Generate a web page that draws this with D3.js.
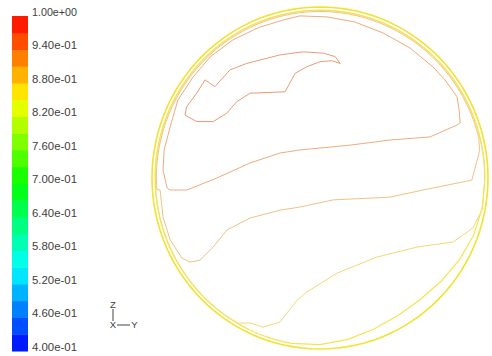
<!DOCTYPE html>
<html>
<head>
<meta charset="utf-8">
<script src="https://cdn.jsdelivr.net/npm/d3@7/dist/d3.min.js"></script>
<style>
  html, body { margin: 0; padding: 0; background: #fff; }
  svg { display: block; }
  text { font-family: "Liberation Sans", Arial, sans-serif; fill: #404040; }
</style>
</head>
<body>
<svg id="chart" width="492" height="356"></svg>
<script>
// ---------------- data ----------------
// colour bar: lower edge of each of the 20 bands
const bandLevels = [0.40, 0.43, 0.46, 0.49, 0.52, 0.55, 0.58, 0.61, 0.64, 0.67,
                    0.70, 0.73, 0.76, 0.79, 0.82, 0.85, 0.88, 0.91, 0.94, 0.97];
const bandTop = 1.00;
const tickValues = [1.00, 0.94, 0.88, 0.82, 0.76, 0.70, 0.64, 0.58, 0.52, 0.46, 0.40];
const tickLabels = ["1.00e+00", "9.40e-01", "8.80e-01", "8.20e-01", "7.60e-01", "7.00e-01",
                    "6.40e-01", "5.80e-01", "5.20e-01", "4.60e-01", "4.00e-01"];

// section geometry (Y, Z in mm), pipe radius
const wallRadius = 50;

// contour lines: sequences of segments.
//  arc:   [radius, fromDeg, toDeg]  (along the wall)
//  polar: [[deg, radius], ...]
//  pts:   [[Y, Z], ...]
const contourWall = [{ arc: [50, 0, 360] }];
const contour082 = [
  { polar: [[-100, 49.1], [-90, 48.7], [-80, 47.9], [-70, 47.0], [-60, 46.4], [-50, 46.4],
            [-40, 47.0], [-30, 47.9], [-20, 48.7], [-10, 49.1]] },
  { arc: [49.1, 0, 260] }
];
const contour085 = [
  { arc: [49.0, -2, 240] },
  { pts: [[-20.8, -42.4], [-17.0, -43.6], [-11.9, -42.1], [-6.8, -35.7], [-3.9, -33.3],
          [5.1, -27.8], [17.0, -23.1], [28.9, -20.2], [39.6, -18.7], [45.5, -14.6], [48.2, -9.4]] }
];
const contour088 = [
  { arc: [48.7, 184, 14] },
  { pts: [[47.5, 8.0], [46.4, 3.8], [45.2, -0.6], [43.8, -0.9], [30.7, -3.5], [20.8, -5.6], [3.9, -6.4],
          [-6.0, -8.5], [-11.9, -9.4], [-20.8, -11.7], [-27.7, -15.2], [-31.8, -20.2],
          [-35.7, -24.0], [-38.7, -24.6], [-41.1, -23.4], [-44.6, -18.1], [-46.7, -11.4],
          [-47.6, -3.5]] }
];
const contour091 = [
  { pts: [[-45.5, -2.9], [-44.6, -3.5], [-39.6, -3.5], [-30.7, 0.0], [-20.8, 4.4], [-11.9, 7.3],
          [-6.0, 8.2], [8.9, 9.6], [20.8, 11.1], [32.7, 12.0], [40.8, 15.5], [41.7, 16.1],
          [41.4, 19.9], [40.8, 23.7], [37.2, 28.7], [33.6, 32.5], [26.8, 38.0], [18.8, 42.4],
          [10.4, 45.6], [2.1, 47.1], [-6.0, 47.4], [-11.0, 46.2], [-18.5, 43.9], [-25.9, 40.4],
          [-32.7, 35.4], [-37.8, 29.5], [-42.3, 22.8], [-44.6, 14.9], [-46.4, 8.2], [-46.7, 2.3]] }
];
const contour094 = [
  { pts: [[-34.2, 28.7], [-31.3, 26.7], [-26.8, 31.6], [-21.8, 33.5], [-11.9, 36.0], [-5.0, 36.9],
          [1.0, 36.5], [4.5, 35.5], [6.0, 33.5], [3.5, 34.3], [0.0, 34.0], [-4.0, 32.5],
          [-7.4, 30.6], [-10.4, 25.2], [-20.8, 24.8], [-24.8, 22.3], [-27.8, 18.9], [-31.8, 16.5],
          [-36.7, 16.5], [-40.2, 18.4], [-39.7, 20.8], [-36.7, 24.8]] }
];

// ---------------- drawing ----------------
const svg = d3.select("#chart");
svg.append("rect").attr("width", 492).attr("height", 356).attr("fill", "#fff");

// colour map (blue -> red rainbow)
const hueScale = d3.scaleLinear().domain([0.40, 1.00]).range([240, 0]);
const yBar = d3.scaleLinear().domain([0.40, 1.00]).range([351, 16]);

const bar = svg.append("g");
bandLevels.forEach((lv, i) => {
  const hi = i + 1 < bandLevels.length ? bandLevels[i + 1] : bandTop;
  const mid = (lv + hi) / 2;
  bar.append("rect")
    .attr("x", 12).attr("width", 16)
    .attr("y", yBar(hi))
    .attr("height", yBar(lv) - yBar(hi) + 0.5)
    .attr("fill", d3.hsl(hueScale(mid), 1, 0.5).formatHex());
});

tickValues.forEach((v, i) => {
  svg.append("text")
    .attr("x", 32).attr("y", yBar(v) - 3)
    .attr("dominant-baseline", "middle")
    .attr("font-size", 10.5)
    .attr("textLength", 45).attr("lengthAdjust", "spacingAndGlyphs")
    .text(tickLabels[i]);
});

// section plot
const xS = d3.scaleLinear().domain([-wallRadius, wallRadius]).range([152, 488]);
const yS = d3.scaleLinear().domain([-wallRadius, wallRadius]).range([349, 7]);

function expand(segs) {
  const out = [];
  segs.forEach(s => {
    if (s.arc) {
      const [r, a0, a1] = s.arc;
      const n = Math.max(2, Math.ceil(Math.abs(a1 - a0) / 3));
      for (let k = 0; k <= n; k++) {
        const a = (a0 + (a1 - a0) * k / n) * Math.PI / 180;
        out.push([r * Math.cos(a), r * Math.sin(a)]);
      }
    } else if (s.polar) {
      s.polar.forEach(([d, r]) => {
        const a = d * Math.PI / 180;
        out.push([r * Math.cos(a), r * Math.sin(a)]);
      });
    } else {
      s.pts.forEach(p => out.push(p));
    }
  });
  return out;
}

const line = d3.line().x(d => xS(d[0])).y(d => yS(d[1])).curve(d3.curveLinearClosed);

const contours = [
  { segs: contour094, color: "#ec9a78", w: 1 },
  { segs: contour091, color: "#f0ab80", w: 1 },
  { segs: contour088, color: "#f3c186", w: 1 },
  { segs: contour085, color: "#f5d876", w: 1 },
  { segs: contour082, color: "#f5e452", w: 1.2 },
  { segs: contourWall, color: "#f2e233", w: 1.6 }
];
const cg = svg.append("g");
contours.forEach(c => {
  cg.append("path")
    .attr("d", line(expand(c.segs)))
    .attr("fill", "none")
    .attr("stroke", c.color)
    .attr("stroke-width", c.w)
    .attr("stroke-linejoin", "round");
});

// axis triad
const tri = svg.append("g");
tri.append("line").attr("x1", 113).attr("y1", 309).attr("x2", 113).attr("y2", 321)
  .attr("stroke", "#444").attr("stroke-width", 1);
tri.append("line").attr("x1", 117).attr("y1", 325).attr("x2", 130).attr("y2", 325)
  .attr("stroke", "#444").attr("stroke-width", 1);
tri.append("text").attr("x", 113).attr("y", 305).attr("text-anchor", "middle")
  .attr("dominant-baseline", "middle").attr("font-size", 9.5).text("Z");
tri.append("text").attr("x", 113).attr("y", 325.5).attr("text-anchor", "middle")
  .attr("dominant-baseline", "middle").attr("font-size", 9.5).text("X");
tri.append("text").attr("x", 134.5).attr("y", 325.5).attr("text-anchor", "middle")
  .attr("dominant-baseline", "middle").attr("font-size", 9.5).text("Y");
</script>
</body>
</html>
